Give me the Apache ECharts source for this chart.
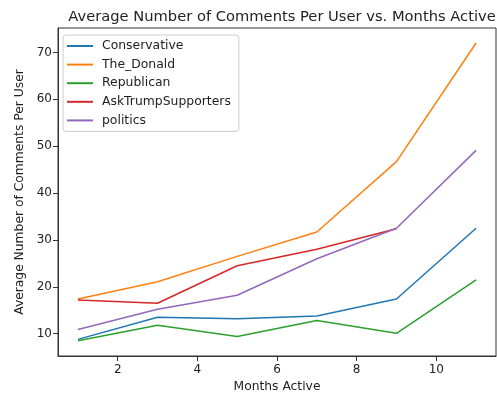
<!DOCTYPE html>
<html>
<head>
<meta charset="utf-8">
<script src="https://cdn.jsdelivr.net/npm/echarts@6/dist/echarts.min.js"></script>
<style>
html,body{margin:0;padding:0;background:#fff;}
#main{width:497px;height:393px;}
</style>
</head>
<body>
<div id="main"></div>
<script>
var months=[1,3,5,7,9,11];
var conservative=[8.8,13.5,13.2,13.8,17.4,32.5];
var theDonald=[17.4,21.1,26.5,31.7,46.7,72.0];
var republican=[8.5,11.8,9.4,12.8,10.1,21.5];
var askTrump=[17.2,16.5,24.5,28.0,32.4];
var politics=[10.9,15.2,18.2,26.0,32.5,49.1];
var xTicks=[2,4,6,8,10];
var yTicks=[10,20,30,40,50,60,70];
var seriesNames=['Conservative','The_Donald','Republican','AskTrumpSupporters','politics'];
var colors=['#1f77b4','#ff7f0e','#2ca02c','#d62728','#9467bd'];

function pairs(vals){
    var out=[];
    for(var i=0;i<vals.length;i++){
        out.push([months[i],vals[i]]);
    }
    return out;
}

var allData=[conservative,theDonald,republican,askTrump,politics];
var series=[];
for(var i=0;i<seriesNames.length;i++){
    series.push({
        name:seriesNames[i],
        type:'line',
        data:pairs(allData[i]),
        showSymbol:false,
        symbol:'none',
        lineStyle:{width:1.5,color:colors[i]},
        itemStyle:{color:colors[i]}
    });
}

var myChart=echarts.init(document.getElementById('main'));
var font='DejaVu Sans';
var option={
    animation:false,
    textStyle:{fontFamily:font},
    title:{
        text:'Average Number of Comments Per User vs. Months Active',
        left:277,
        textAlign:'center',
        top:5,
        textStyle:{fontFamily:font,fontSize:14.7,fontWeight:'normal',color:'#222'}
    },
    legend:{
        orient:'vertical',
        left:63,
        top:35,
        width:175,
        height:95,
        padding:[4,8,4,4],
        borderColor:'#ccc',
        borderWidth:1,
        borderRadius:3,
        itemWidth:26,
        itemHeight:2,
        itemGap:4.6,
        icon:'rect',
        data:seriesNames,
        textStyle:{fontFamily:font,fontSize:12.4,color:'#222',lineHeight:14,padding:[0,0,0,4]}
    },
    grid:{
        left:58,
        right:1,
        top:28,
        bottom:37,
        outerBoundsMode:'none',
        show:true,
        borderColor:'#333',
        borderWidth:1
    },
    xAxis:{
        type:'value',
        min:0.5,
        max:11.5,
        name:'Months Active',
        nameLocation:'middle',
        nameGap:25,
        nameTextStyle:{fontFamily:font,fontSize:12.3,color:'#222'},
        axisLine:{show:true,lineStyle:{color:'#333'}},
        axisTick:{show:true,length:5,customValues:xTicks,lineStyle:{color:'#333'}},
        axisLabel:{customValues:xTicks,fontFamily:font,fontSize:12,color:'#222',margin:8},
        splitLine:{show:false}
    },
    yAxis:{
        type:'value',
        min:5.25,
        max:75.2,
        name:'Average Number of Comments Per User',
        nameLocation:'middle',
        nameGap:32,
        nameTextStyle:{fontFamily:font,fontSize:12.3,color:'#222'},
        axisLine:{show:true,lineStyle:{color:'#333'}},
        axisTick:{show:true,length:5,customValues:yTicks,lineStyle:{color:'#333'}},
        axisLabel:{customValues:yTicks,fontFamily:font,fontSize:12,color:'#222',margin:6},
        splitLine:{show:false}
    },
    series:series
};
myChart.setOption(option);
</script>
</body>
</html>
